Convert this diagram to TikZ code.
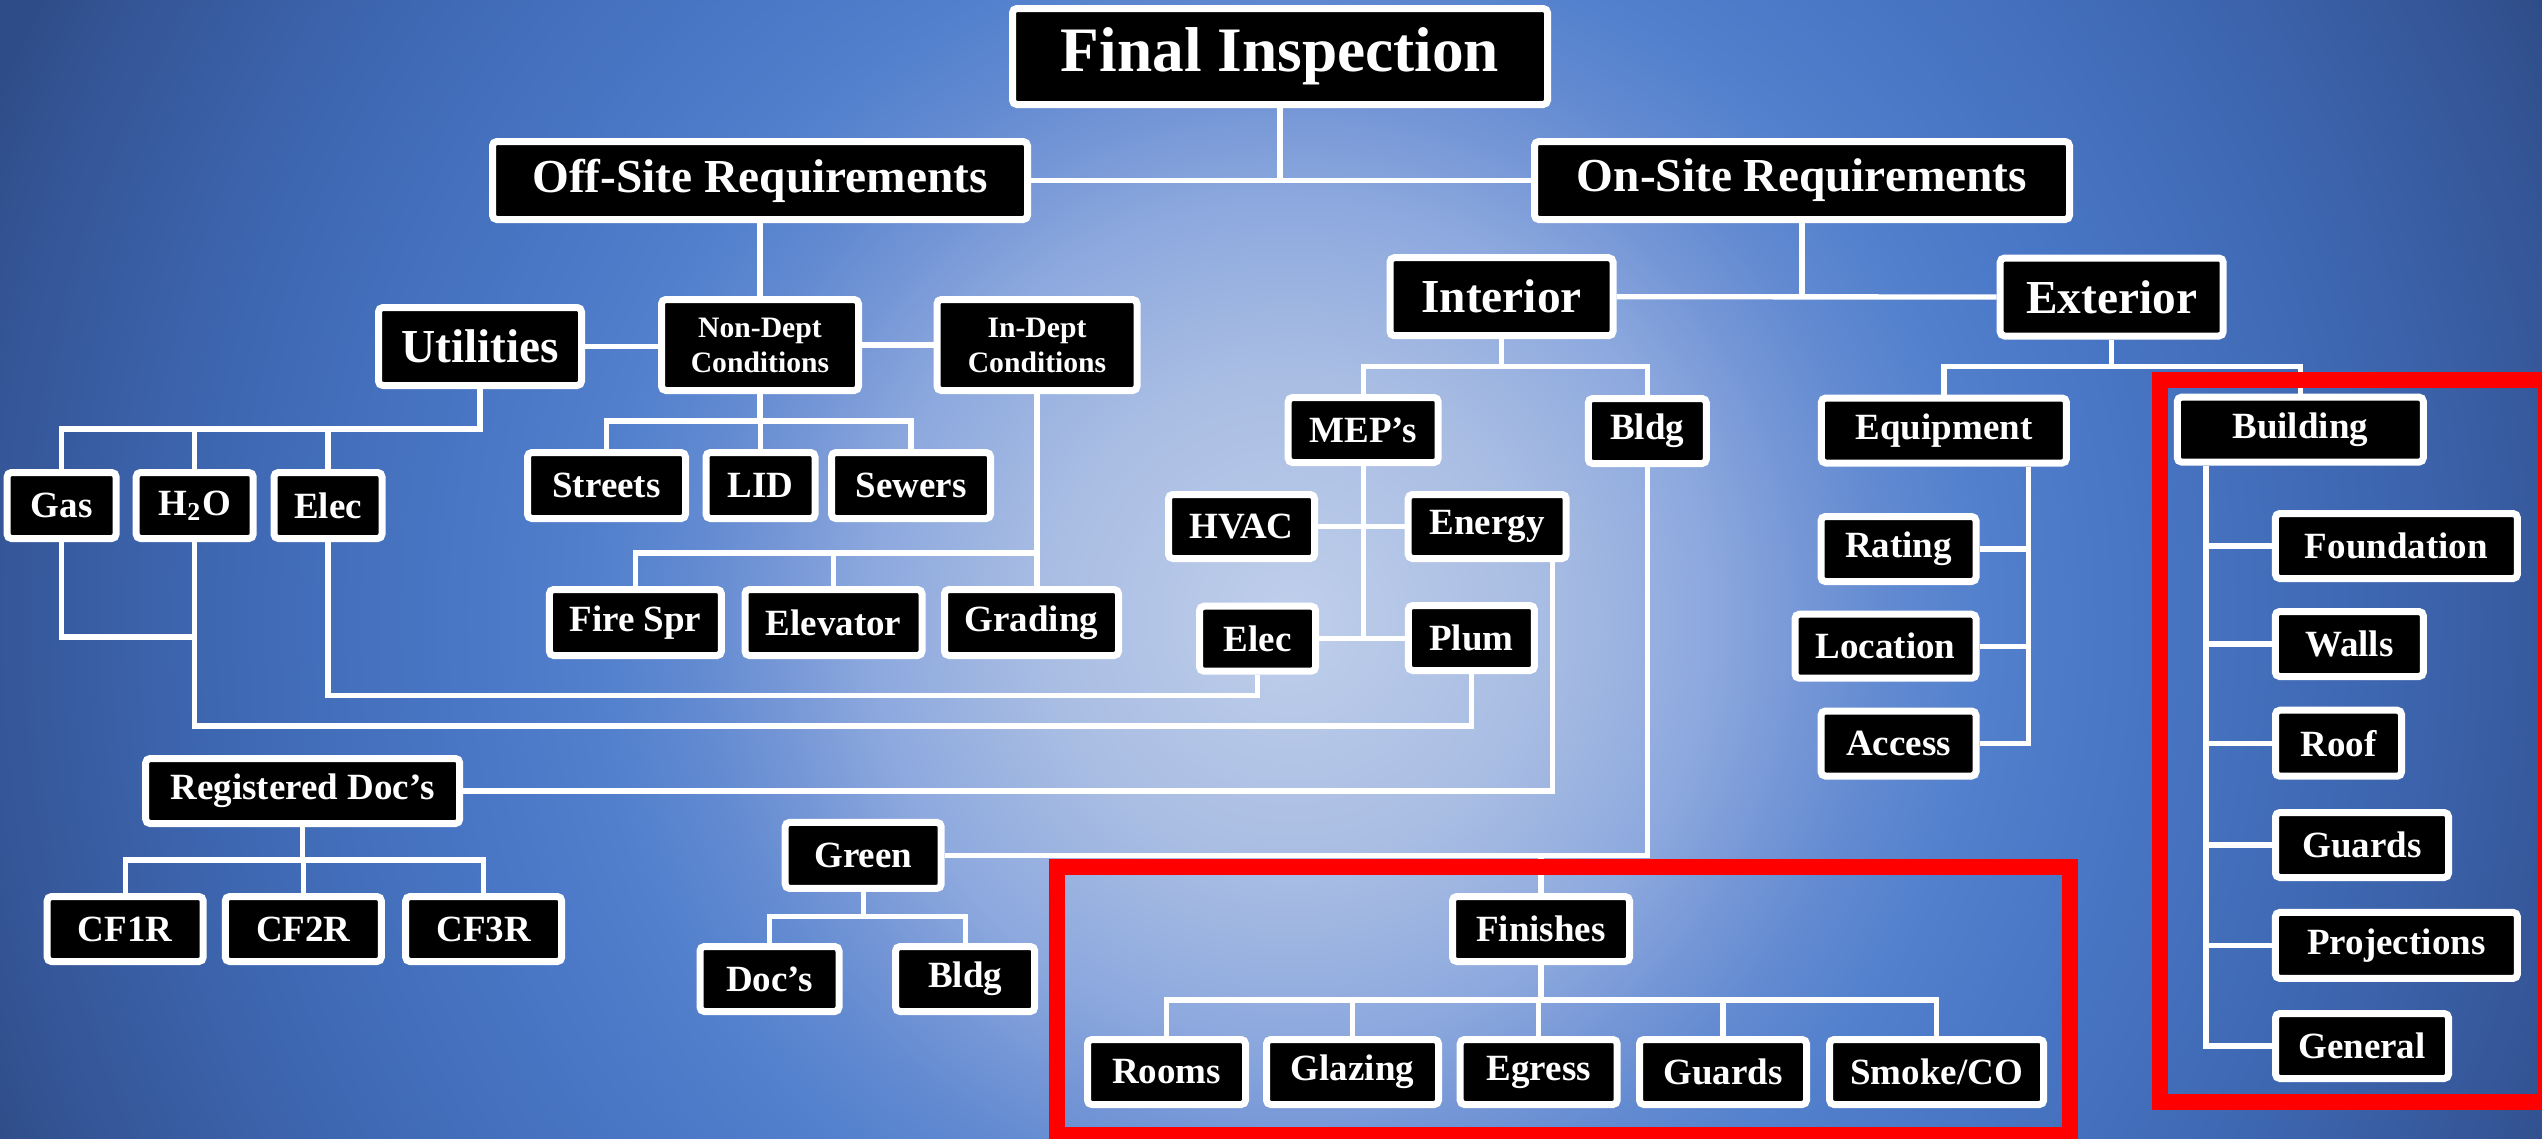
\documentclass[tikz,border=0pt]{standalone}
\usepackage{fontspec}
\setmainfont{Liberation Serif}
\usetikzlibrary{calc}
\pgfdeclarelayer{bg}
\pgfdeclarelayer{lines}
\pgfsetlayers{bg,lines,main}

% soft blue backdrop, light in the middle, darker towards the corners
\pgfdeclareradialshading{skyglow}{\pgfpoint{0bp}{0bp}}{%
  rgb(0bp)=(0.75,0.81,0.92);
  rgb(4.5bp)=(0.66,0.74,0.89);
  rgb(7.5bp)=(0.55,0.66,0.87);
  rgb(9.2bp)=(0.46,0.59,0.84);
  rgb(10.7bp)=(0.38,0.54,0.82);
  rgb(12.5bp)=(0.32,0.50,0.80);
  rgb(14.5bp)=(0.29,0.47,0.78);
  rgb(19.6bp)=(0.24,0.40,0.69);
  rgb(23bp)=(0.21,0.34,0.60);
  rgb(25bp)=(0.18,0.30,0.53);
  rgb(50bp)=(0.18,0.30,0.53)}

\tikzset{
  box/.style={draw=white, line width=2.1pt, fill=black, rounded corners=1.3pt,
    text=white, inner sep=0pt, align=center,
    font=\bfseries\fontsize{11.1}{13}\selectfont},
  wh/.style 2 args={minimum width={(#1-7)*0.3pt}, minimum height={(#2-7)*0.3pt}},
  fXL/.style={font=\bfseries\fontsize{19}{22}\selectfont},
  fL/.style={font=\bfseries\fontsize{14.2}{17}\selectfont},
  fS/.style={font=\bfseries\fontsize{8.9}{10.5}\selectfont},
  conn/.style={draw=white, line width=1.6pt},
  redframe/.style={draw=red, line width=4.8pt},
}

\begin{document}
\begin{tikzpicture}[x=0.3pt, y=-0.3pt]
\useasboundingbox (0,0) rectangle (2542,1138);

\begin{pgfonlayer}{bg}
  \begin{scope}
    \clip (0,0) rectangle (2542,1138);
    \shade[shading=skyglow] (-110,-780) rectangle (2690,2020);
  \end{scope}
\end{pgfonlayer}

% ---------- boxes ----------
\node[box,fXL,wh={542}{103}] (final) at (1280,56.5) {Final Inspection};
\node[box,fL,wh={542}{85}] (offsite) at (760,180.5) {Off-Site Requirements};
\node[box,fL,wh={542}{85}] (onsite) at (1802,180.5) {On-Site Requirements};

\node[box,fL,wh={210}{85}] (utilities) at (480,346.5) {Utilities};
\node[box,fS,wh={204}{98}] (nondept) at (760,345) {Non-Dept\\Conditions};
\node[box,fS,wh={207}{98}] (indept) at (1037,345) {In-Dept\\Conditions};

\node[box,wh={116}{73}] (gas) at (61.6,505.5) {Gas};
\node[box,wh={124}{73}] (h2o) at (194.7,505.5) {H\textsubscript{2}O};
\node[box,wh={115}{73}] (elec1) at (328,505.5) {Elec};

\node[box,wh={165}{73}] (streets) at (606.5,485.5) {Streets};
\node[box,wh={116}{73}] (lid) at (760.5,485.5) {LID};
\node[box,wh={166}{73}] (sewers) at (911,485.5) {Sewers};

\node[box,wh={179}{73}] (firespr) at (635.4,622.5) {Fire Spr};
\node[box,wh={184}{73}] (elevator) at (833.5,622.5) {Elevator};
\node[box,wh={181}{73}] (grading) at (1031.5,622.5) {Grading};

\node[box,fL,wh={230}{85}] (interior) at (1501.5,296.7) {Interior};
\node[box,fL,wh={230}{85}] (exterior) at (2111.7,297) {Exterior};

\node[box,wh={157}{72}] (meps) at (1363.2,430) {MEP’s};
\node[box,wh={125}{72}] (bldg) at (1647.3,431) {Bldg};
\node[box,wh={153}{71}] (hvac) at (1241.5,526.5) {HVAC};
\node[box,wh={165}{71}] (energy) at (1487.2,526.5) {Energy};
\node[box,wh={123}{72}] (elec2) at (1257.6,638.7) {Elec};
\node[box,wh={133}{72}] (plum) at (1471.4,638) {Plum};

\node[box,wh={252}{72}] (equipment) at (1943.9,430.5) {Equipment};
\node[box,wh={162}{72}] (rating) at (1898.5,549) {Rating};
\node[box,wh={188}{71}] (location) at (1885.5,646.2) {Location};
\node[box,wh={162}{72}] (access) at (1898.5,743.5) {Access};

\node[box,wh={253}{72}] (building) at (2300.3,429.6) {Building};
\node[box,wh={249}{72}] (foundation) at (2396.4,546) {Foundation};
\node[box,wh={155}{72}] (walls) at (2349.3,644) {Walls};
\node[box,wh={133}{73}] (roof) at (2338.5,743.2) {Roof};
\node[box,wh={180}{72}] (guardsB) at (2362,845) {Guards};
\node[box,wh={249}{73}] (projections) at (2396.4,945.4) {Projections};
\node[box,wh={180}{72}] (general) at (2362,1046) {General};

\node[box,wh={321}{72}] (regdocs) at (302.7,791) {Registered Doc’s};
\node[box,wh={163}{72}] (cf1r) at (125.2,929) {CF1R};
\node[box,wh={163}{72}] (cf2r) at (303.3,929) {CF2R};
\node[box,wh={163}{72}] (cf3r) at (483.7,929) {CF3R};

\node[box,wh={163}{73}] (green) at (863.2,855.4) {Green};
\node[box,wh={146}{72}] (docs) at (769.5,979) {Doc’s};
\node[box,wh={146}{72}] (bldgG) at (965.2,979) {Bldg};

\node[box,wh={184}{72}] (finishes) at (1541,929) {Finishes};
\node[box,wh={165}{72}] (rooms) at (1166.5,1072) {Rooms};
\node[box,wh={179}{72}] (glazing) at (1352.5,1072) {Glazing};
\node[box,wh={164}{72}] (egress) at (1538.7,1072) {Egress};
\node[box,wh={174}{72}] (guardsF) at (1723,1072) {Guards};
\node[box,wh={221}{72}] (smoke) at (1936.7,1072) {Smoke/CO};

% ---------- bus levels ----------
\coordinate (ub) at (0,429);
\coordinate (nb) at (0,421);
\coordinate (ib) at (0,553);
\coordinate (yg) at (0,637);
\coordinate (ye) at (0,695.5);
\coordinate (yw) at (0,726);
\coordinate (intb) at (0,366.4);
\coordinate (eb) at (0,366.7);
\coordinate (rb) at (0,860);
\coordinate (gb) at (0,916.7);
\coordinate (fb) at (0,1000);
\coordinate (eqx) at ($(equipment.south)+(84.4,0)$);
\coordinate (bx) at ($(building.south)+(-94.3,0)$);

% ---------- connectors ----------
\begin{pgfonlayer}{lines}
  \draw[conn] (final.south) -- (final.south |- offsite.east);
  \draw[conn] (offsite.east) -- (onsite.west);
  \draw[conn] (offsite.south) -- (nondept.north);
  \draw[conn] (utilities.east) -- (utilities.east -| nondept.west);
  \draw[conn] (nondept.east) -- (nondept.east -| indept.west);

  \draw[conn] (utilities.south) -- (utilities.south |- ub) -| (gas.north);
  \draw[conn] (h2o.north) -- (h2o.north |- ub);
  \draw[conn] (elec1.north) -- (elec1.north |- ub);

  \draw[conn] (nondept.south) -- (nondept.south |- nb);
  \draw[conn] (streets.north) |- (sewers.north |- nb) -- (sewers.north);
  \draw[conn] (lid.north) -- (lid.north |- nb);

  \draw[conn] (indept.south) -- (indept.south |- grading.north);
  \draw[conn] (firespr.north) |- (indept.south |- ib);
  \draw[conn] (elevator.north) -- (elevator.north |- ib);

  \draw[conn] (gas.south) |- (h2o.south |- yg);
  \draw[conn] (h2o.south) |- (plum.south |- yw) -- (plum.south);
  \draw[conn] (elec1.south) |- (elec2.south |- ye) -- (elec2.south);

  \draw[conn] (onsite.south) -- (onsite.south |- interior.east);
  \draw[conn] (interior.east) -- (exterior.west);
  \draw[conn] (interior.south) -- (interior.south |- intb);
  \draw[conn] (meps.north) |- (bldg.north |- intb) -- (bldg.north);

  \draw[conn] (meps.south) -- (meps.south |- elec2.east);
  \draw[conn] (hvac.east) -- (hvac.east -| energy.west);
  \draw[conn] (elec2.east) -- (elec2.east -| plum.west);
  \draw[conn] (regdocs.east) -| ($(energy.south)+(65,0)$);

  \draw[conn] (bldg.south) |- (green.east);
  \draw[conn] (finishes.north) -- (finishes.north |- green.east);

  \draw[conn] (finishes.south) -- (finishes.south |- fb);
  \draw[conn] (rooms.north) |- (smoke.north |- fb) -- (smoke.north);
  \draw[conn] (glazing.north) -- (glazing.north |- fb);
  \draw[conn] (egress.north) -- (egress.north |- fb);
  \draw[conn] (guardsF.north) -- (guardsF.north |- fb);

  \draw[conn] (regdocs.south) -- (regdocs.south |- rb);
  \draw[conn] (cf1r.north) |- (cf3r.north |- rb) -- (cf3r.north);
  \draw[conn] (cf2r.north) -- (cf2r.north |- rb);

  \draw[conn] (green.south) -- (green.south |- gb);
  \draw[conn] (docs.north) |- (bldgG.north |- gb) -- (bldgG.north);

  \draw[conn] (exterior.south) -- (exterior.south |- eb);
  \draw[conn] (equipment.north) |- (building.north |- eb) -- (building.north);

  \draw[conn] (eqx) |- (access.east);
  \draw[conn] (rating.east) -- (rating.east -| eqx);
  \draw[conn] (location.east) -- (location.east -| eqx);

  \draw[conn] (bx) |- (general.west);
  \draw[conn] (foundation.west) -- (foundation.west -| bx);
  \draw[conn] (walls.west) -- (walls.west -| bx);
  \draw[conn] (roof.west) -- (roof.west -| bx);
  \draw[conn] (guardsB.west) -- (guardsB.west -| bx);
  \draw[conn] (projections.west) -- (projections.west -| bx);

  % highlight frames
  \draw[redframe] (2159.7,380.3) rectangle (2546,1102);
  \draw[redframe] (1057,867.3) rectangle (2070.4,1135.3);
\end{pgfonlayer}

\end{tikzpicture}
\end{document}
